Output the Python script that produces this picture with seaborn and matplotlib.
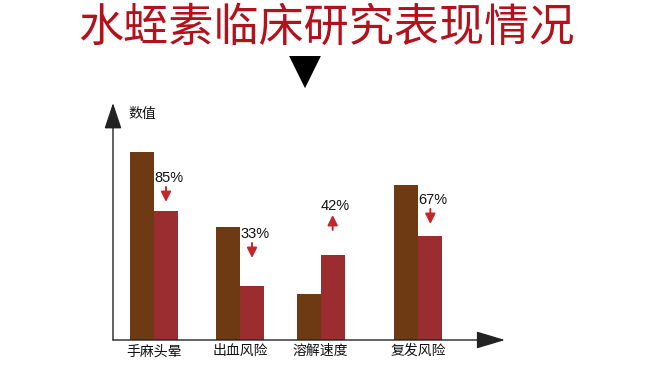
import matplotlib
matplotlib.use("Agg")
import matplotlib.pyplot as plt
import seaborn as sns
import pandas as pd

# chart data (arbitrary units)
categories = ["手麻头晕", "出血风险", "溶解速度", "复发风险"]
before_vals = [188, 113, 46, 155]
after_vals = [129, 54, 85, 104]
change_labels = ["85%", "33%", "42%", "67%"]
change_dirs = ["down", "down", "up", "down"]

# layout: group centres are not evenly spaced in the original
group_pos = [0.0, 0.96, 1.86, 2.95]
label_gaps = [33, 52, 49, 36]

brown = "#6e3a14"
red = "#9b2d31"
arrow_red = "#c4262c"

sns.set_theme(style="white")
plt.rcParams["font.family"] = ["Noto Sans CJK SC", "DejaVu Sans"]

df = pd.DataFrame({
    "pos": group_pos * 2,
    "val": before_vals + after_vals,
    "series": ["before"] * len(categories) + ["after"] * len(categories),
})

fig = plt.figure(figsize=(6.5, 3.65), dpi=100)
fig.patch.set_facecolor("white")
ax = fig.add_axes([113 / 650, 25 / 365, (505 - 113) / 650, (340 - 103) / 365])

# native_scale: width is relative to the smallest gap between groups (0.9)
sns.barplot(data=df, x="pos", y="val", hue="series", palette=[brown, red],
            native_scale=True, width=0.535 / 0.9, gap=0, dodge=True,
            saturation=1, linewidth=0, legend=False, ax=ax)

ax.set_xlim(-0.458, 3.917)
ax.set_ylim(0, 237)
ax.set_xlabel("")
ax.set_ylabel("")
ax.set_yticks([])
ax.set_xticks(group_pos)
ax.set_xticklabels(categories)
for s in ax.spines.values():
    s.set_visible(False)
ax.tick_params(axis="x", length=0, pad=3, labelsize=10, colors="#111111")

# axes with arrow heads
ax.annotate("", xy=(0, 1.0), xytext=(0, 0), xycoords="axes fraction",
            arrowprops=dict(arrowstyle="-|>,head_length=0.9,head_width=0.3",
                            color="#222222", lw=1.0, mutation_scale=18,
                            shrinkA=0, shrinkB=0))
ax.annotate("", xy=(1.0, 0), xytext=(0, 0), xycoords="axes fraction",
            arrowprops=dict(arrowstyle="-|>,head_length=1.0,head_width=0.3",
                            color="#222222", lw=1.0, mutation_scale=18,
                            shrinkA=0, shrinkB=0))
ax.text(0.04, 0.955, "数值", transform=ax.transAxes, fontsize=10,
        va="center", ha="left", color="#111111")

# change labels with small arrows above the second bar of each group
off = 0.535 / 4
for i, (lab, d, g) in enumerate(zip(change_labels, change_dirs, label_gaps)):
    x = group_pos[i] + off
    ty = after_vals[i] + g
    ax.text(x + 0.03, ty, lab, ha="center", va="center", fontsize=10.5,
            family=["Liberation Sans", "DejaVu Sans"], color="#111111")
    top, bot = ty - 9, ty - 24
    if d == "down":
        start, end = top, bot
    else:
        start, end = bot, top
    ax.annotate("", xy=(x, end), xytext=(x, start),
                arrowprops=dict(arrowstyle="-|>,head_length=0.5,head_width=0.25",
                                color=arrow_red, lw=1.4, mutation_scale=12,
                                shrinkA=0, shrinkB=0))

fig.text(326 / 650, 1 - 28 / 365, "水蛭素临床研究表现情况", ha="center", va="center",
         fontsize=32.5, fontweight="medium", color="#b3121c")
fig.text(305 / 650, 1 - 72 / 365, "▼", ha="center", va="center",
         fontsize=30, color="black", family="DejaVu Sans")

fig.savefig("out.png", dpi=100, facecolor="white")
